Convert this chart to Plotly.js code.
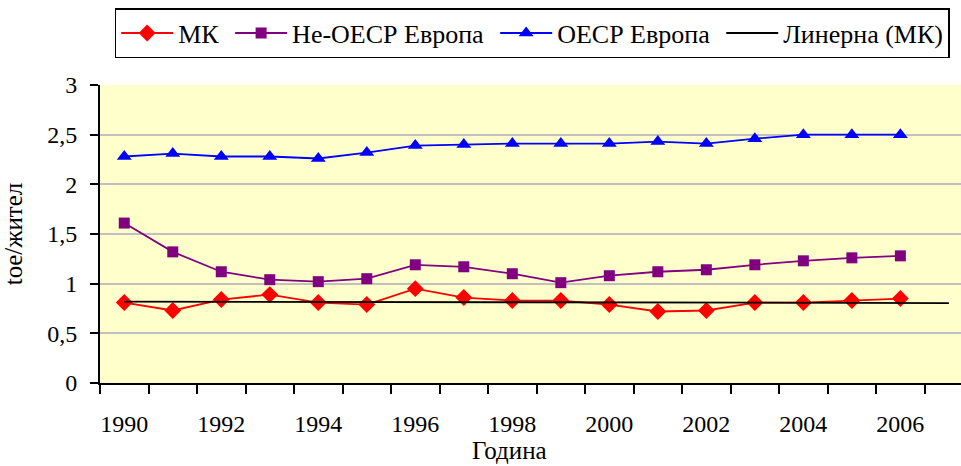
<!DOCTYPE html>
<html>
<head>
<meta charset="utf-8">
<script src="https://cdn.plot.ly/plotly-3.0.1.min.js"></script>
<style>html,body{margin:0;padding:0;background:#fff;}#chart{width:961px;height:466px;}</style>
</head>
<body>
<div id="chart"></div>
<script>
const years = [1990,1991,1992,1993,1994,1995,1996,1997,1998,1999,2000,2001,2002,2003,2004,2005,2006];
const mk = [0.81,0.73,0.84,0.89,0.81,0.79,0.95,0.86,0.83,0.83,0.79,0.72,0.73,0.81,0.81,0.83,0.85];
const nonOecd = [1.61,1.32,1.12,1.04,1.02,1.05,1.19,1.17,1.10,1.01,1.08,1.12,1.14,1.19,1.23,1.26,1.28];
const oecd = [2.28,2.31,2.28,2.28,2.26,2.32,2.39,2.40,2.41,2.41,2.41,2.43,2.41,2.46,2.50,2.50,2.50];
const trendYears = [1990, 2007];
const trendValues = [0.82, 0.805];
const seriesNames = ['МК', 'Не-ОЕСР Европа', 'ОЕСР Европа', 'Линерна (МК)'];
const xTickVals = [1990,1992,1994,1996,1998,2000,2002,2004,2006];
const yTickVals = [0,0.5,1,1.5,2,2.5,3];
const yTickText = ['0','0,5','1','1,5','2','2,5','3'];

const FONT = "'Liberation Serif', 'Times New Roman', serif";
const PAD = '\u00a0';

const traces = [
  {x: years, y: mk, name: seriesNames[0] + PAD, type: 'scatter', mode: 'lines+markers',
   line: {color: '#FF0000', width: 1.8}, marker: {symbol: 'diamond', size: 13, color: '#FF0000'}},
  {x: years, y: nonOecd, name: seriesNames[1] + PAD, type: 'scatter', mode: 'lines+markers',
   line: {color: '#800080', width: 1.8}, marker: {symbol: 'square', size: 11, color: '#800080'}},
  {x: years, y: oecd, name: seriesNames[2] + PAD, type: 'scatter', mode: 'lines+markers',
   line: {color: '#0000FF', width: 1.8}, marker: {symbol: 'triangle-up', size: 13, color: '#0000FF'}},
  {x: trendYears, y: trendValues, name: seriesNames[3], type: 'scatter', mode: 'lines',
   line: {color: '#000000', width: 1.8}}
];

const layout = {
  width: 961, height: 466,
  margin: {l: 100, r: 0, t: 85, b: 83},
  paper_bgcolor: '#FFFFFF',
  plot_bgcolor: '#FFFFCC',
  font: {family: FONT, size: 24, color: '#000'},
  showlegend: true,
  legend: {
    orientation: 'h', x: 0.017, y: 1.258, xanchor: 'left', yanchor: 'top',
    bordercolor: '#000', borderwidth: 1.5, bgcolor: '#FFFFFF',
    font: {family: FONT, size: 26, color: '#000'},
    itemwidth: 52, traceorder: 'normal'
  },
  xaxis: {
    range: [1989.5, 2007.25],
    tickvals: xTickVals, ticktext: xTickVals.map(String),
    ticks: '', showgrid: false, zeroline: false,
    showline: true, linecolor: '#000', linewidth: 2,
    ticklabelstandoff: 18,
    tickfont: {family: FONT, size: 24},
    minor: {ticks: 'outside', tick0: 1989.5, dtick: 1, ticklen: 9, tickwidth: 2, tickcolor: '#000', showgrid: false},
    fixedrange: true
  },
  yaxis: {
    range: [0, 3],
    tickvals: yTickVals, ticktext: yTickText,
    ticks: 'outside', ticklen: 8, tickwidth: 2, tickcolor: '#000',
    showgrid: true, gridcolor: '#C0C0C0', gridwidth: 2,
    zeroline: false, showline: true, linecolor: '#000', linewidth: 2,
    ticklabelstandoff: 8,
    tickfont: {family: FONT, size: 24},
    title: {text: 'toe/жител', font: {family: FONT, size: 25}, standoff: 26},
    fixedrange: true
  },
  annotations: [{
    text: 'Година', xref: 'paper', yref: 'paper', x: 0.476, y: -0.226,
    xanchor: 'center', yanchor: 'middle', showarrow: false,
    font: {family: FONT, size: 25, color: '#000'}
  }]
};

Plotly.newPlot('chart', traces, layout, {displayModeBar: false, staticPlot: true});
</script>
</body>
</html>
